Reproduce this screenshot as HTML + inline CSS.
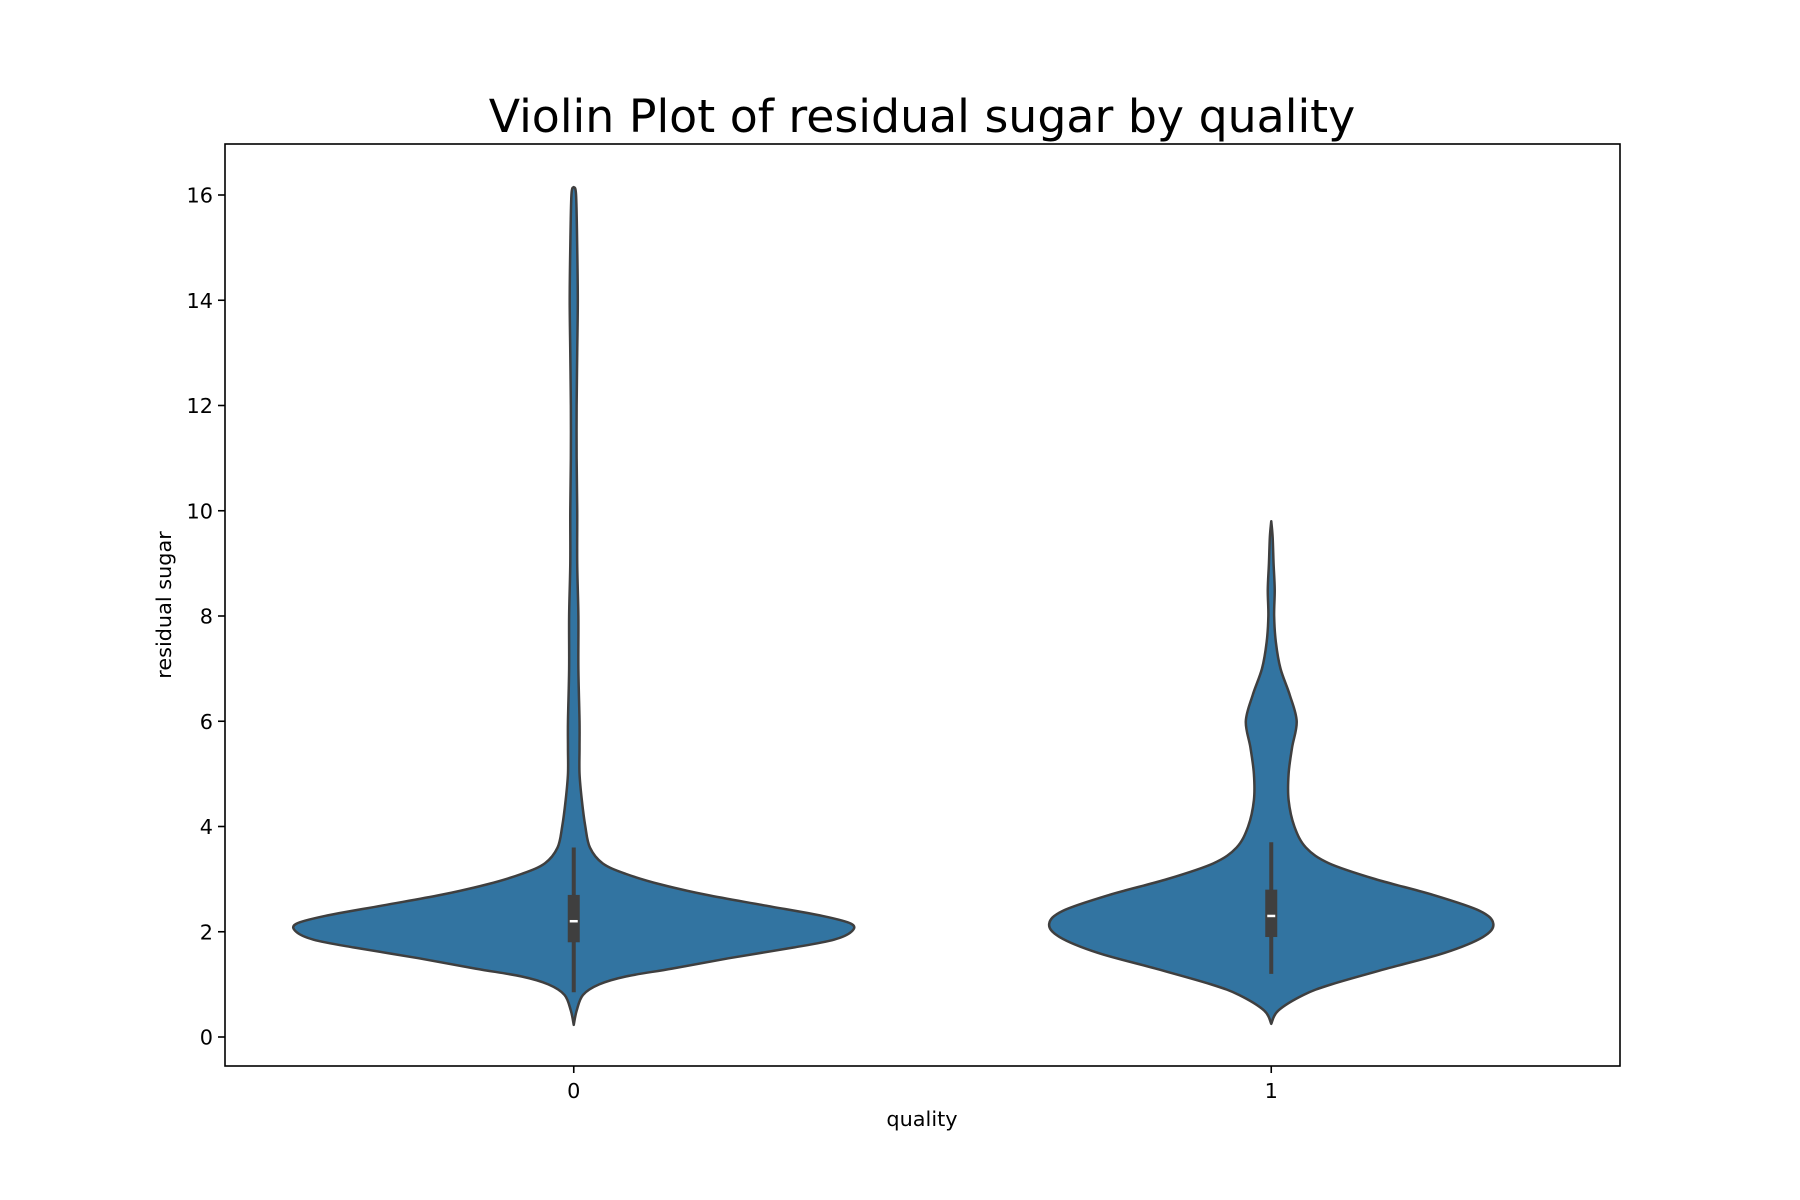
<!DOCTYPE html>
<html><head><meta charset="utf-8"><style>body{margin:0;background:#fff}svg{display:block}text{font-family:"DejaVu Sans","Liberation Sans",sans-serif}</style></head>
<body>
<svg id="chart" width="1800" height="1200" viewBox="0 0 1800 1200" xmlns="http://www.w3.org/2000/svg">
<rect width="1800" height="1200" fill="#fff"/>
<text x="922" y="132" font-size="45.8" text-anchor="middle">Violin Plot of residual sugar by quality</text>
<g id="plot"></g>
<rect x="225" y="144" width="1395" height="922" fill="none" stroke="#000" stroke-width="1.6"/>
<text x="922" y="1126" font-size="20.8" text-anchor="middle">quality</text>
<text transform="translate(171,605) rotate(-90)" font-size="20.8" text-anchor="middle">residual sugar</text>
</svg>
<script>
const categories = ["0", "1"];
const yTicks = [0, 2, 4, 6, 8, 10, 12, 14, 16];
const ys0 = [0.23,0.5,0.8,1.0,1.15,1.3,1.5,1.7,1.85,2.0,2.15,2.3,2.5,2.7,2.9,3.1,3.3,3.6,4.0,4.5,5.0,5.5,6,7,8,9,10,11,12,13,14,15,16,16.15];
const dens0 = [0,2.5,8,22,45,85,135,190,225,240,240,215,165,115,75,45,25,14,10,7,5,5,5,4,4,3,3,2.5,2.5,3,3.5,3,2,0];
const ys1 = [0.25,0.5,0.8,1.0,1.3,1.6,1.9,2.15,2.4,2.7,3.0,3.3,3.6,4.0,4.5,5.0,5.5,6.0,6.5,7.0,7.5,8.0,8.5,9.0,9.5,9.8];
const dens1 = [0,6,28,52,100,150,183,192,180,140,90,50,30,20,15,15,18,22,16,8,4,2.5,3,2,1.2,0];
const boxStats = [
  {lo:0.85, q1:1.8, med:2.2, q3:2.7, hi:3.6},
  {lo:1.2, q1:1.9, med:2.3, q3:2.8, hi:3.7}
];
const NS="http://www.w3.org/2000/svg";
const L=225,R=1620,T=144,B=1066;
const yScale=v=>1037-v*(1037-195)/16;
const xScale=i=>L+(i+0.5)*(R-L)/categories.length;
const maxDens=Math.max(...dens0,...dens1);
const halfW=0.398*(R-L)/categories.length;
const wScale=d=>d/maxDens*halfW;
const svg=document.getElementById('chart');
const plot=document.getElementById('plot');
function mk(tag,attrs,parent){const e=document.createElementNS(NS,tag);for(const k in attrs)e.setAttribute(k,attrs[k]);(parent||plot).appendChild(e);return e;}
function spline(pts){let d=`M${pts[0][0]},${pts[0][1]}`;for(let i=0;i<pts.length-1;i++){const p0=pts[Math.max(i-1,0)],p1=pts[i],p2=pts[i+1],p3=pts[Math.min(i+2,pts.length-1)];const c1=[p1[0]+(p2[0]-p0[0])/6,p1[1]+(p2[1]-p0[1])/6],c2=[p2[0]-(p3[0]-p1[0])/6,p2[1]-(p3[1]-p1[1])/6];d+=` C${c1[0]},${c1[1]} ${c2[0]},${c2[1]} ${p2[0]},${p2[1]}`;}return d;}
[[ys0,dens0],[ys1,dens1]].forEach(([ys,ds],i)=>{
  const cx=xScale(i);
  const right=ys.map((y,k)=>[cx+wScale(ds[k]),yScale(y)]);
  const left=ys.map((y,k)=>[cx-wScale(ds[k]),yScale(y)]).reverse();
  const d=spline(right)+' L'+spline(left).slice(1)+' Z';
  const v=mk('path',{d:d,fill:'#3274a1',stroke:'#3f3f3f','stroke-width':2.5,'stroke-linejoin':'round'});
  
  
  const b=boxStats[i];
  const wl=mk('line',{x1:cx,x2:cx,y1:yScale(b.lo),y2:yScale(b.hi),stroke:'#3f3f3f','stroke-width':4});
  
  
  const bx=mk('rect',{x:cx-6,width:12,y:yScale(b.q3),height:yScale(b.q1)-yScale(b.q3),fill:'#3f3f3f'});
  
  
  const md=mk('line',{x1:cx-4,x2:cx+4,y1:yScale(b.med),y2:yScale(b.med),stroke:'#fff','stroke-width':2.5});
  
  
  const tk=mk('line',{x1:cx,x2:cx,y1:B,y2:B+7,stroke:'#000','stroke-width':1.6},svg);
  
  
  const tl=mk('text',{x:cx,y:B+32,'font-size':20.8,'text-anchor':'middle'},svg);
  tl.textContent=categories[i];
  
  
});
yTicks.forEach(t=>{
  const y=yScale(t);
  const tk=mk('line',{x1:L-7,x2:L,y1:y,y2:y,stroke:'#000','stroke-width':1.6},svg);
  
  
  const tl=mk('text',{x:L-12,y:y+7.5,'font-size':20.8,'text-anchor':'end'},svg);
  tl.textContent=t;
  
  
});
</script>
</body></html>
